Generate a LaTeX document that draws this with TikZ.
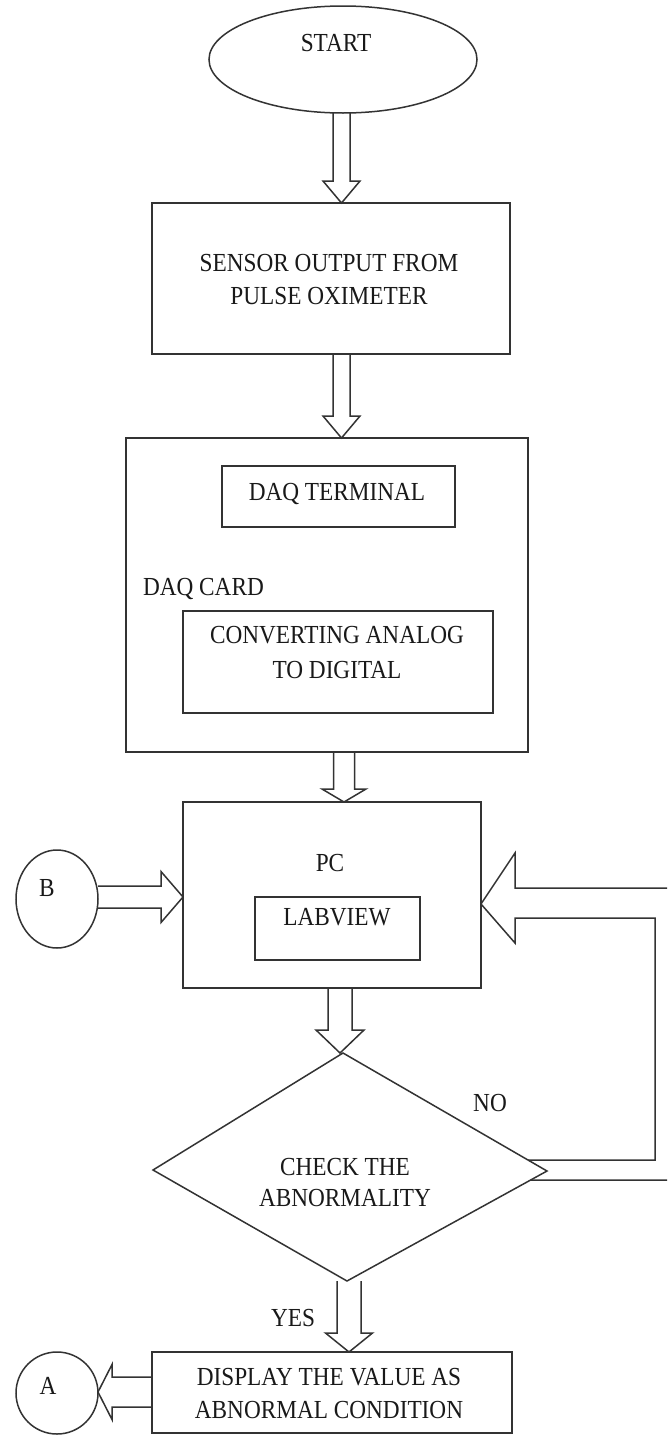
\documentclass[tikz,border=0pt]{standalone}
\usepackage{fontspec}
\setmainfont{Liberation Serif}[FakeStretch=0.895]
\usetikzlibrary{shapes.geometric,calc}
\tikzset{
  ln/.style={line width=1.5pt, draw=black!80, line join=miter},
  box/.style={ln, rectangle, inner sep=0pt, outer sep=0pt},
  lbl/.style={inner sep=0pt, outer sep=0pt, font=\fontsize{26}{33}\selectfont, align=center, text=black!90, text depth=0pt},
  conn/.style={ln},
}
% downward hollow arrow: #1 from, #2 to, #3 x centre, #4 shaft half, #5 head half, #6 head length
\newcommand\dnarrow[6]{\draw[conn] let \p1=(#1), \p2=(#2) in
  (#3pt-#4pt,\y1) -- (#3pt-#4pt,\y2+#6pt) -- (#3pt-#5pt,\y2+#6pt) -- (#3pt,\y2)
  -- (#3pt+#5pt,\y2+#6pt) -- (#3pt+#4pt,\y2+#6pt) -- (#3pt+#4pt,\y1);}
% rightward hollow arrow: #1 from, #2 to, #3 y centre (px), #4 shaft half, #5 head half, #6 head length
\newcommand\rtarrow[6]{\draw[conn] let \p1=(#1), \p2=(#2) in
  (\x1,-#3pt+#4pt) -- (\x2-#6pt,-#3pt+#4pt) -- (\x2-#6pt,-#3pt+#5pt) -- (\x2,-#3pt)
  -- (\x2-#6pt,-#3pt-#5pt) -- (\x2-#6pt,-#3pt-#4pt) -- (\x1,-#3pt-#4pt);}
% leftward hollow arrow
\newcommand\ltarrow[6]{\draw[conn] let \p1=(#1), \p2=(#2) in
  (\x1,-#3pt+#4pt) -- (\x2+#6pt,-#3pt+#4pt) -- (\x2+#6pt,-#3pt+#5pt) -- (\x2,-#3pt)
  -- (\x2+#6pt,-#3pt-#5pt) -- (\x2+#6pt,-#3pt-#4pt) -- (\x1,-#3pt-#4pt);}
\begin{document}
\begin{tikzpicture}[x=1pt,y=-1pt]
\useasboundingbox (0,0) rectangle (667,1435);
\clip (0,0) rectangle (667,1435);
\fill[white] (0,0) rectangle (667,1435);

% shapes
\node[ellipse, ln, inner sep=0pt, outer sep=0pt, minimum width=268pt, minimum height=107pt] (start) at (343,59.5) {};
\node[box, minimum width=358pt, minimum height=151pt] (sensor) at (331,278.5) {};
\node[box, minimum width=402pt, minimum height=314pt] (daq) at (327,595) {};
\node[box, minimum width=233pt, minimum height=61pt] (term) at (338.5,496.5) {};
\node[box, minimum width=310pt, minimum height=102pt] (conv) at (338,662) {};
\node[box, minimum width=298pt, minimum height=186pt] (pc) at (332,895) {};
\node[box, minimum width=165pt, minimum height=63pt] (lab) at (337.5,928.5) {};
\node[ellipse, ln, inner sep=0pt, outer sep=0pt, minimum width=82pt, minimum height=98pt] (B) at (57,899) {};
\node[box, minimum width=360pt, minimum height=81pt] (disp) at (332,1392.5) {};
\node[circle, ln, inner sep=0pt, outer sep=0pt, minimum size=82pt] (A) at (57,1393) {};

% decision diamond
\coordinate (dtop) at (343,1053);
\coordinate (dright) at (547,1171);
\coordinate (dbot) at (347,1281);
\coordinate (dleft) at (153,1170);
\draw[ln] (dtop) -- (dright) -- (dbot) -- (dleft) -- cycle;

% texts
\node[lbl] (tstart) at (336,43) {START};
\node[lbl] (tsensor) at (329,279) {SENSOR OUTPUT FROM\\PULSE OXIMETER};
\node[lbl] (tterm) at (337,492) {DAQ TERMINAL};
\node[lbl, anchor=west] (tdaq) at (143,587) {DAQ CARD};
\node[lbl, font=\fontsize{26}{35}\selectfont] (tconv) at (337,652.5) {CONVERTING ANALOG\\TO DIGITAL};
\node[lbl] (tpc) at (330,863) {PC};
\node[lbl] (tlab) at (337,917) {LABVIEW};
\node[lbl] (tB) at (47,888) {B};
\node[lbl] (tno) at (490,1103) {NO};
\node[lbl, font=\fontsize{26}{31}\selectfont] (tcheck) at (345,1182.5) {CHECK THE\\ABNORMALITY};
\node[lbl] (tyes) at (293,1318) {YES};
\node[lbl] (tdisp) at (329,1393.5) {DISPLAY THE VALUE AS\\ABNORMAL CONDITION};
\node[lbl] (tA) at (48,1386) {A};

% connectors
\dnarrow{start.south}{sensor.north}{341.5}{8.5}{18.5}{22}
\dnarrow{sensor.south}{daq.north}{341.5}{8.5}{18.5}{22}
\dnarrow{daq.south}{pc.north}{344}{10.5}{22}{13}
\dnarrow{pc.south}{dtop}{340}{12}{24}{23}
\dnarrow{dbot}{disp.north}{349}{12}{23.5}{19}
\rtarrow{B.east}{pc.west}{897}{11}{25.5}{22}
\ltarrow{disp.west}{A.east}{1392}{15}{27.5}{14}

% NO feedback loop (double line, hollow head at PC)
\coordinate (fbin) at (528,1160);
\coordinate (fbout) at (531,1180);
\coordinate (fbtip) at (481,904);
\draw[conn] (fbin) -- (655,1160) -- (655,918) -- (515,918) -- (515,943)
  -- (pc.east |- fbtip) -- (515,853) -- (515,888) -- (680,888) -- (680,1180) -- (fbout);
\end{tikzpicture}
\end{document}
